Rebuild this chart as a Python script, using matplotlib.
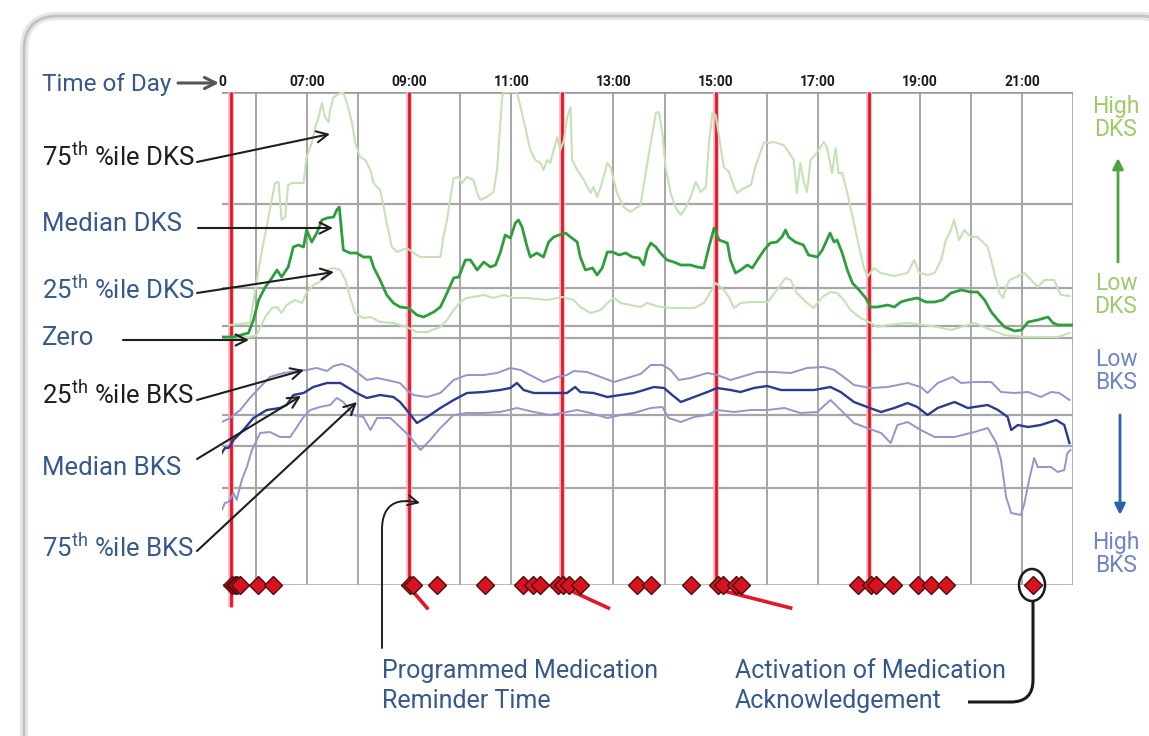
import matplotlib
matplotlib.use("Agg")
import matplotlib.pyplot as plt
from matplotlib.patches import FancyBboxPatch, FancyArrowPatch, Ellipse, PathPatch
from matplotlib.path import Path

plt.rcParams['font.family'] = ['Roboto', 'DejaVu Sans']
plt.rcParams['mathtext.fontset'] = 'custom'
plt.rcParams['mathtext.rm'] = 'Roboto'
plt.rcParams['mathtext.it'] = 'Roboto:italic'
plt.rcParams['mathtext.bf'] = 'Roboto:bold'

# ---------------- data (hours of day, arbitrary kinetic-score units) ----------------
x_min, x_max = 5.333, 22.0
y_min, y_max = -24.7, 24.6
tick_hours = [5.333, 7, 9, 11, 13, 15, 17, 19, 21]
tick_labels = ['0', '07:00', '09:00', '11:00', '13:00', '15:00', '17:00', '19:00', '21:00']
hgrid_values = [13.4, 5.0, 1.2, 0.0, -7.7, -10.8, -15.0]

dks75_h = [5.49, 5.88, 6.08, 6.27, 6.37, 6.44, 6.50, 6.57, 6.63, 6.70,
           6.93, 6.99, 7.09, 7.16, 7.22, 7.29, 7.35, 7.42, 7.45, 7.52,
           7.65, 7.71, 7.78, 7.88, 7.94, 8.04, 8.14, 8.24, 8.30, 8.43,
           8.50, 8.56, 8.66, 8.76, 8.95, 9.15, 9.22, 9.61, 9.67, 9.74,
           9.80, 9.87, 9.97, 10.03, 10.13, 10.26, 10.33, 10.39, 10.52, 10.65,
           10.72, 10.78, 10.82, 10.85, 11.11, 11.18, 11.27, 11.37, 11.47, 11.57,
           11.63, 11.70, 11.76, 11.83, 11.90, 11.96, 12.03, 12.09, 12.16, 12.19,
           12.29, 12.42, 12.55, 12.61, 12.68, 12.75, 12.88, 12.94, 13.07, 13.20,
           13.33, 13.53, 13.63, 13.73, 13.83, 13.89, 13.96, 14.02, 14.12, 14.22,
           14.32, 14.42, 14.51, 14.61, 14.71, 14.81, 14.87, 14.94, 15.00, 15.07,
           15.16, 15.26, 15.36, 15.42, 15.56, 15.69, 15.78, 15.88, 15.95, 16.05,
           16.14, 16.33, 16.43, 16.53, 16.59, 16.66, 16.72, 16.79, 16.86, 16.95,
           17.12, 17.18, 17.28, 17.35, 17.41, 17.48, 17.58, 17.71, 17.81, 17.90,
           17.97, 18.10, 18.24, 18.50, 18.76, 18.89, 18.99, 19.16, 19.29, 19.42,
           19.51, 19.61, 19.67, 19.77, 19.87, 20.00, 20.13, 20.33, 20.46, 20.56,
           20.63, 20.69, 20.76, 20.89, 21.05, 21.18, 21.31, 21.44, 21.63, 21.76,
           21.93]
dks75_v = [1.3, 1.5, 7.8, 12.8, 15.5, 15.6, 11.8, 12.1, 15.3, 15.5,
           15.5, 18.1, 19.5, 21.1, 22.0, 23.5, 22.1, 21.6, 22.8, 24.1,
           24.5, 24.5, 23.5, 21.5, 19.5, 18.1, 17.8, 16.8, 15.5, 14.8,
           13.1, 11.5, 9.1, 8.6, 9.0, 8.3, 8.1, 8.1, 10.1, 11.8,
           13.8, 16.0, 16.1, 15.5, 16.1, 15.8, 14.5, 13.8, 14.1, 14.6,
           16.8, 21.1, 24.1, 24.6, 24.6, 23.1, 21.1, 18.8, 17.8, 17.5,
           16.8, 17.8, 17.5, 18.8, 20.1, 18.8, 19.8, 22.0, 23.1, 17.8,
           16.8, 15.8, 14.5, 15.1, 14.1, 15.1, 17.5, 17.1, 14.5, 13.1,
           12.6, 13.3, 16.5, 19.5, 22.5, 22.6, 20.4, 17.1, 14.5, 13.0,
           12.3, 13.1, 14.1, 15.6, 14.6, 15.1, 19.5, 22.6, 22.3, 20.1,
           17.1, 16.6, 15.1, 14.5, 15.0, 15.3, 17.1, 18.6, 19.6, 19.5,
           19.6, 19.3, 18.6, 17.8, 14.5, 17.5, 15.8, 14.6, 17.8, 18.3,
           19.6, 19.1, 16.5, 19.0, 16.5, 16.5, 14.5, 11.5, 9.1, 7.1,
           6.1, 7.0, 6.5, 6.2, 6.5, 7.8, 6.5, 6.3, 6.5, 7.8,
           9.8, 10.8, 11.8, 9.8, 10.8, 10.1, 10.1, 9.1, 6.5, 4.5,
           4.0, 5.1, 5.8, 6.1, 6.5, 5.8, 5.1, 5.8, 5.8, 4.3,
           4.2]

dks50_h = [5.33, 5.56, 5.85, 5.95, 6.05, 6.18, 6.31, 6.41, 6.50, 6.63,
           6.73, 6.83, 6.93, 6.99, 7.09, 7.19, 7.29, 7.39, 7.52, 7.58,
           7.63, 7.71, 7.84, 7.97, 8.10, 8.24, 8.30, 8.43, 8.56, 8.69,
           8.82, 8.99, 9.15, 9.28, 9.48, 9.61, 9.74, 9.87, 9.97, 10.10,
           10.20, 10.33, 10.46, 10.59, 10.69, 10.78, 10.88, 10.98, 11.08, 11.14,
           11.21, 11.31, 11.37, 11.50, 11.63, 11.73, 11.83, 11.93, 12.06, 12.16,
           12.29, 12.35, 12.45, 12.59, 12.68, 12.78, 12.88, 12.98, 13.11, 13.24,
           13.37, 13.50, 13.59, 13.66, 13.73, 13.83, 13.92, 14.05, 14.18, 14.32,
           14.51, 14.64, 14.77, 14.87, 14.97, 15.07, 15.23, 15.29, 15.39, 15.49,
           15.62, 15.72, 15.82, 15.95, 16.07, 16.20, 16.30, 16.37, 16.43, 16.56,
           16.72, 16.82, 16.99, 17.09, 17.18, 17.24, 17.32, 17.38, 17.48, 17.58,
           17.68, 17.81, 17.94, 18.04, 18.17, 18.37, 18.50, 18.63, 18.76, 18.95,
           19.12, 19.29, 19.45, 19.61, 19.81, 20.00, 20.13, 20.27, 20.40, 20.53,
           20.66, 20.86, 20.99, 21.12, 21.31, 21.51, 21.61, 21.71, 21.97]
dks50_v = [0.1, 0.1, 0.5, 1.8, 3.8, 5.1, 6.0, 6.8, 6.1, 7.1,
           9.1, 9.3, 9.1, 10.8, 9.6, 10.5, 11.8, 12.0, 12.1, 12.8,
           13.1, 8.8, 8.5, 8.5, 8.1, 8.1, 7.1, 5.8, 4.3, 3.5,
           3.1, 3.0, 2.3, 2.1, 2.6, 3.1, 4.5, 6.0, 6.1, 7.8,
           7.8, 6.8, 7.6, 7.1, 7.3, 8.5, 10.3, 10.0, 11.5, 11.8,
           11.1, 9.1, 8.1, 8.5, 8.1, 9.6, 10.1, 10.3, 10.5, 10.1,
           9.6, 8.1, 6.8, 7.0, 6.3, 7.0, 8.6, 8.6, 8.3, 8.5,
           8.1, 8.0, 7.3, 8.8, 9.5, 9.1, 8.5, 7.8, 7.6, 7.3,
           7.3, 7.1, 7.0, 9.1, 11.0, 9.8, 9.5, 7.8, 6.5, 6.8,
           7.3, 7.0, 7.8, 8.8, 9.5, 9.6, 10.1, 10.8, 10.1, 9.6,
           9.3, 8.3, 8.1, 8.8, 9.8, 10.5, 9.6, 9.8, 8.5, 6.8,
           5.5, 4.8, 4.0, 3.1, 3.1, 3.3, 3.1, 3.6, 3.8, 4.0,
           3.6, 3.6, 3.8, 4.5, 4.8, 4.6, 4.6, 3.8, 2.6, 1.8,
           1.1, 0.7, 0.8, 1.6, 1.8, 2.1, 1.5, 1.3, 1.3]

dks25_h = [5.33, 5.88, 6.01, 6.18, 6.31, 6.41, 6.50, 6.60, 6.76, 6.90,
           6.99, 7.12, 7.25, 7.39, 7.52, 7.65, 7.75, 7.84, 7.94, 8.10,
           8.24, 8.43, 8.69, 8.95, 9.15, 9.35, 9.61, 9.74, 9.87, 10.00,
           10.13, 10.46, 10.65, 10.85, 11.05, 11.31, 11.70, 12.00, 12.22, 12.35,
           12.55, 12.75, 12.88, 13.01, 13.14, 13.33, 13.53, 13.66, 13.92, 14.18,
           14.58, 14.77, 14.90, 15.00, 15.13, 15.26, 15.36, 15.49, 15.69, 16.02,
           16.20, 16.37, 16.47, 16.59, 16.79, 16.92, 17.09, 17.25, 17.38, 17.51,
           17.64, 17.84, 18.04, 18.17, 18.37, 18.76, 19.09, 19.35, 19.61, 19.81,
           20.07, 20.40, 20.66, 21.05, 21.71, 21.93]
dks25_v = [0.0, 0.1, 0.3, 2.1, 3.0, 3.1, 2.5, 3.3, 3.8, 3.5,
           4.5, 5.3, 5.6, 6.8, 7.0, 6.8, 5.8, 4.1, 2.5, 2.0,
           2.1, 1.6, 1.5, 1.1, 0.6, 0.6, 1.1, 1.8, 2.8, 3.6,
           4.0, 4.3, 4.0, 4.3, 4.0, 4.0, 3.8, 4.1, 3.8, 3.1,
           2.5, 2.8, 3.5, 4.0, 3.5, 3.3, 3.1, 3.5, 3.1, 3.0,
           3.0, 3.5, 4.6, 5.5, 5.0, 4.1, 3.0, 3.5, 3.6, 3.6,
           4.8, 6.0, 5.8, 4.5, 3.5, 3.0, 4.1, 4.6, 4.5, 3.8,
           2.8, 2.0, 1.5, 1.1, 1.3, 1.5, 1.3, 1.1, 0.8, 1.1,
           1.5, 0.8, 0.3, 0.1, 0.1, 0.5]

bks25_h = [5.33, 5.49, 5.69, 5.88, 6.08, 6.27, 6.54, 6.80, 6.99, 7.19,
           7.39, 7.52, 7.68, 7.84, 7.97, 8.17, 8.37, 8.56, 8.82, 8.95,
           9.08, 9.35, 9.61, 9.87, 10.13, 10.46, 10.72, 10.98, 11.18, 11.44,
           11.63, 11.90, 12.09, 12.22, 12.48, 12.75, 13.01, 13.27, 13.53, 13.73,
           13.96, 14.12, 14.28, 14.51, 14.84, 15.03, 15.29, 15.49, 15.82, 16.14,
           16.47, 16.79, 17.12, 17.32, 17.51, 17.71, 18.04, 18.37, 18.76, 19.02,
           19.15, 19.35, 19.64, 19.81, 20.07, 20.40, 20.59, 20.85, 21.12, 21.37,
           21.57, 21.73, 21.93]
bks25_v = [-8.4, -8.0, -7.2, -6.0, -4.9, -3.9, -3.5, -3.3, -3.2, -3.0,
           -3.3, -2.8, -2.6, -2.9, -3.4, -4.2, -4.0, -4.2, -4.5, -5.2,
           -5.7, -5.9, -5.5, -4.2, -3.7, -3.7, -3.5, -3.0, -3.2, -3.9,
           -4.4, -3.9, -3.7, -3.3, -3.4, -3.9, -4.4, -4.0, -3.6, -2.7,
           -2.7, -3.2, -4.2, -4.0, -3.5, -3.7, -4.2, -3.9, -3.4, -3.4,
           -3.5, -3.0, -2.9, -3.2, -3.9, -4.7, -5.0, -4.9, -4.5, -4.9,
           -5.5, -4.5, -3.9, -4.5, -4.4, -4.4, -5.4, -5.5, -5.4, -5.9,
           -5.4, -5.5, -6.2]

bks50_h = [5.33, 5.39, 5.46, 5.56, 5.75, 5.95, 6.21, 6.47, 6.60, 6.73,
           6.93, 7.12, 7.39, 7.65, 7.78, 7.97, 8.17, 8.43, 8.69, 8.82,
           8.95, 9.15, 9.35, 9.61, 9.87, 10.13, 10.46, 10.78, 10.98, 11.11,
           11.24, 11.44, 11.76, 12.09, 12.25, 12.35, 12.61, 12.88, 13.14, 13.40,
           13.60, 13.79, 13.99, 14.15, 14.32, 14.58, 14.84, 15.03, 15.29, 15.49,
           15.75, 16.01, 16.28, 16.61, 16.93, 17.25, 17.45, 17.71, 17.97, 18.24,
           18.50, 18.76, 18.95, 19.15, 19.35, 19.68, 19.94, 20.33, 20.53, 20.72,
           20.79, 20.92, 21.12, 21.37, 21.67, 21.83, 21.93]
bks50_v = [-11.5, -11.0, -11.0, -10.2, -9.2, -8.0, -7.2, -7.0, -6.7, -5.7,
           -5.5, -4.9, -4.5, -4.5, -4.9, -5.5, -6.0, -5.7, -5.9, -6.4,
           -7.2, -8.5, -7.9, -7.0, -6.2, -5.5, -5.4, -5.2, -5.0, -4.5,
           -5.2, -5.5, -5.5, -5.5, -4.9, -5.4, -5.5, -5.9, -5.7, -5.5,
           -5.2, -4.9, -5.0, -5.7, -6.4, -5.9, -5.4, -5.0, -5.2, -5.4,
           -5.0, -4.8, -5.2, -5.2, -5.2, -4.9, -5.4, -6.4, -6.9, -7.4,
           -7.0, -6.5, -6.9, -7.7, -7.0, -6.4, -7.0, -6.7, -7.2, -7.9,
           -9.2, -8.7, -8.9, -8.7, -8.2, -8.7, -10.5]

bks75_h = [5.33, 5.39, 5.46, 5.56, 5.62, 5.72, 5.82, 5.92, 6.08, 6.27,
           6.47, 6.67, 6.80, 6.93, 7.06, 7.25, 7.45, 7.58, 7.71, 7.91,
           8.10, 8.24, 8.37, 8.63, 8.82, 9.02, 9.22, 9.41, 9.61, 9.87,
           10.13, 10.46, 10.78, 11.11, 11.44, 11.76, 12.09, 12.29, 12.55, 12.88,
           13.14, 13.40, 13.73, 13.96, 14.08, 14.32, 14.58, 14.84, 15.03, 15.36,
           15.69, 16.02, 16.35, 16.66, 16.99, 17.25, 17.45, 17.71, 17.97, 18.24,
           18.43, 18.56, 18.76, 19.02, 19.29, 19.68, 20.07, 20.33, 20.49, 20.59,
           20.69, 20.79, 20.98, 21.05, 21.14, 21.24, 21.31, 21.57, 21.70, 21.83,
           21.89, 21.95]
bks75_v = [-17.2, -16.5, -16.4, -15.5, -16.2, -14.2, -12.9, -11.2, -9.5, -9.4,
           -9.9, -9.9, -8.9, -7.9, -7.2, -6.9, -6.7, -6.0, -6.4, -7.7,
           -7.9, -9.2, -8.0, -8.0, -8.9, -9.9, -11.2, -10.2, -9.0, -7.7,
           -7.5, -7.5, -7.4, -7.0, -7.4, -7.7, -7.4, -7.2, -7.5, -8.0,
           -7.7, -7.5, -7.0, -6.9, -8.0, -8.4, -7.9, -7.7, -7.2, -7.4,
           -7.2, -7.2, -7.0, -7.5, -7.4, -6.2, -7.2, -8.5, -9.0, -9.5,
           -10.5, -8.7, -8.4, -9.2, -9.9, -9.9, -9.4, -9.0, -10.4, -12.2,
           -15.9, -17.5, -17.7, -16.5, -14.2, -12.0, -12.9, -12.9, -13.4, -13.2,
           -11.5, -11.2]

reminder_hours = [5.5, 9.0, 12.0, 15.0, 18.0]
reminder_low = [-26.9, y_min, y_min, y_min, y_min]
smear_start_h = [9.08, 12.22, 15.24]
smear_end_h = [9.35, 12.90, 16.47]
smear_start_v, smear_end_v = -25.4, -27.0

ack_hours = [5.53, 5.58, 5.63, 5.69, 6.04, 6.33, 9.02, 9.08, 9.55, 10.49,
             11.22, 11.43, 11.57, 11.92, 12.02, 12.12, 12.35, 13.47, 13.73, 14.51,
             15.04, 15.14, 15.39, 15.49, 17.78, 18.04, 18.14, 18.47, 18.96, 19.22,
             19.51, 21.22]

# ---------------- figure ----------------
W, H = 1149, 736
fig = plt.figure(figsize=(W / 100, H / 100), dpi=100)
fig.patch.set_facecolor('white')

L, R, T, B = 222, 1073, 92, 585
ax = fig.add_axes([L / W, 1 - B / H, (R - L) / W, (B - T) / H])
ax.set_xlim(x_min, x_max)
ax.set_ylim(y_min, y_max)
for s in ax.spines.values():
    s.set_visible(False)
ax.set_yticks([])
ax.xaxis.tick_top()
ax.set_xticks(tick_hours)
ax.set_xticklabels(tick_labels, fontsize=10, fontweight='bold', color='#1a1a1a')
ax.tick_params(axis='x', length=0, pad=2)

grid_c = '#a6a6a6'
for h in range(6, 22):
    ax.axvline(h, color=grid_c, lw=1.4, zorder=1)
ax.axvline(x_max, color=grid_c, lw=2.0, zorder=1)
for v in hgrid_values:
    ax.axhline(v, color=grid_c, lw=1.6, zorder=1)
ax.axhline(y_max, color='#9a9a9a', lw=2.6, zorder=1)
ax.axhline(y_min, color=grid_c, lw=1.8, zorder=1)

# reminder lines
for h, lo in zip(reminder_hours, reminder_low):
    ax.plot([h, h], [y_max, lo], color='#f7b3b9', lw=4.0, zorder=2, clip_on=False,
            solid_capstyle='butt')
    ax.plot([h, h], [y_max, lo], color='#e3172a', lw=2.0, zorder=2, clip_on=False,
            solid_capstyle='butt')
for h0, h1 in zip(smear_start_h, smear_end_h):
    ax.plot([h0, h1], [smear_start_v, smear_end_v], color='#e3172a', lw=2.6,
            zorder=2, clip_on=False)

# kinetic score lines
ax.plot(dks75_h, dks75_v, color='#c4e2b6', lw=1.5, zorder=3)
ax.plot(dks25_h, dks25_v, color='#c4e2b6', lw=1.5, zorder=3)
ax.plot(dks50_h, dks50_v, color='#2e9d3c', lw=2.0, zorder=4)
ax.plot(bks25_h, bks25_v, color='#9196cb', lw=1.4, zorder=3)
ax.plot(bks75_h, bks75_v, color='#9196cb', lw=1.4, zorder=3)
ax.plot(bks50_h, bks50_v, color='#2b3a8f', lw=1.7, zorder=4)

# acknowledgement diamonds
ax.plot(ack_hours, [y_min] * len(ack_hours), linestyle='none', marker='D',
        ms=9.5, mfc='#d8121f', mec='#4a0d0d', mew=1.0, zorder=6, clip_on=False)

# ---------------- overlay for annotations ----------------
ov = fig.add_axes([0, 0, 1, 1])
ov.set_xlim(0, W)
ov.set_ylim(H, 0)
ov.axis('off')
ov.set_zorder(5)
ov.patch.set_alpha(0)

ov.add_patch(FancyBboxPatch((24, 16), 1150, 760, boxstyle='round,pad=0,rounding_size=34',
                            fc='none', ec='#e6e6e6', lw=6))
ov.add_patch(FancyBboxPatch((24, 16), 1150, 760, boxstyle='round,pad=0,rounding_size=34',
                            fc='none', ec='#c2c2c2', lw=2))

blue_txt = '#35598a'
dark_txt = '#1e1e1e'
fs = 18.5

def arrow(p_from, p_to, lw=1.5, color='#1e1e1e'):
    ov.annotate('', xy=p_to, xytext=p_from,
                arrowprops=dict(arrowstyle='->', color=color, lw=lw,
                                mutation_scale=20, shrinkA=0, shrinkB=0))

ov.text(42, 85, 'Time of Day', fontsize=17.5, color=blue_txt, va='center', ha='left')
arrow((178, 83), (219, 83), lw=2.2, color='#555555')

labels = [
    ('75$^{\\mathrm{th}}$ %ile DKS', 157, dark_txt, (197, 162), (330, 134)),
    ('Median DKS', 224, blue_txt, (198, 228), (333, 228)),
    ('25$^{\\mathrm{th}}$ %ile DKS', 290, blue_txt, (197, 293), (334, 272)),
    ('Zero', 338, blue_txt, (123, 340), (249, 340)),
    ('25$^{\\mathrm{th}}$ %ile BKS', 395, dark_txt, (197, 400), (304, 370)),
    ('Median BKS', 468, blue_txt, (197, 459), (301, 396)),
    ('75$^{\\mathrm{th}}$ %ile BKS', 548, blue_txt, (197, 551), (357, 402)),
]
for txt, y, c, p0, p1 in labels:
    ov.text(42, y, txt, fontsize=fs, color=c, va='center', ha='left')
    arrow(p0, p1)

# right side legend
ov.text(1116, 118, 'High\nDKS', fontsize=16.5, color='#9fca6c', ha='center', va='center',
        linespacing=1.05)
ov.text(1116, 295, 'Low\nDKS', fontsize=16.5, color='#9fca6c', ha='center', va='center',
        linespacing=1.05)
ov.text(1116, 371, 'Low\nBKS', fontsize=16.5, color='#7085c4', ha='center', va='center',
        linespacing=1.05)
ov.text(1116, 554, 'High\nBKS', fontsize=16.5, color='#7085c4', ha='center', va='center',
        linespacing=1.05)
ov.annotate('', xy=(1118, 158), xytext=(1118, 262),
            arrowprops=dict(arrowstyle='-|>', color='#4ea43c', lw=2.0,
                            mutation_scale=16, shrinkA=0, shrinkB=0))
ov.annotate('', xy=(1120, 515), xytext=(1120, 415),
            arrowprops=dict(arrowstyle='-|>', color='#2c62ad', lw=2.0,
                            mutation_scale=16, shrinkA=0, shrinkB=0))

# bottom annotations
bfs = 18
ov.text(382, 678, 'Programmed Medication', fontsize=bfs, color=blue_txt, ha='left', va='baseline')
ov.text(382, 708, 'Reminder Time', fontsize=bfs, color=blue_txt, ha='left', va='baseline')
ov.text(735, 678, 'Activation of Medication', fontsize=bfs, color=blue_txt, ha='left', va='baseline')
ov.text(735, 708, 'Acknowledgement', fontsize=bfs, color=blue_txt, ha='left', va='baseline')

prog_path = Path([(382, 648), (382, 530), (382, 503), (398, 498), (420, 503)],
                 [Path.MOVETO, Path.LINETO, Path.CURVE4, Path.CURVE4, Path.CURVE4])
ov.add_patch(FancyArrowPatch(path=prog_path, arrowstyle='->', mutation_scale=18,
                             lw=1.4, color='#1e1e1e'))

ov.add_patch(Ellipse((1032, 585), 26, 32, fc='none', ec='#1a1a1a', lw=1.8))
ack_path = Path([(1033, 601), (1033, 680), (1033, 702), (1011, 702), (968, 702)],
                [Path.MOVETO, Path.LINETO, Path.CURVE3, Path.CURVE3, Path.LINETO])
ov.add_patch(PathPatch(ack_path, fc='none', ec='#1a1a1a', lw=2.2))

fig.savefig('out.png', dpi=100, facecolor='white')
